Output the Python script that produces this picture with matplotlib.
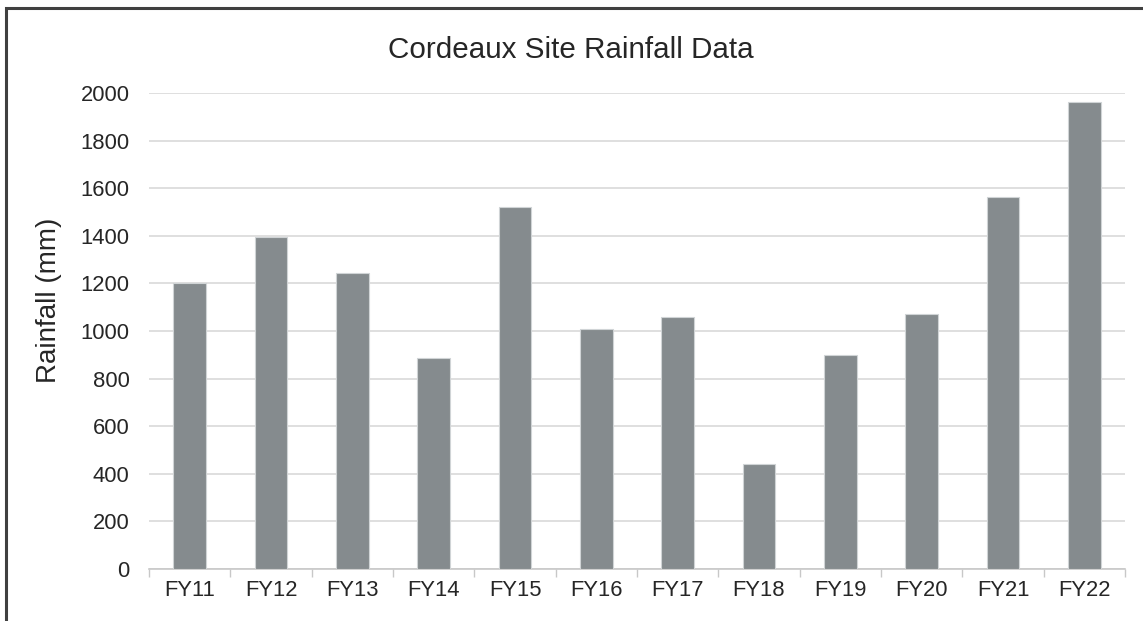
import matplotlib
matplotlib.use("Agg")
import matplotlib.pyplot as plt
import numpy as np

# rainfall per financial year (mm)
years = ["FY11", "FY12", "FY13", "FY14", "FY15", "FY16",
         "FY17", "FY18", "FY19", "FY20", "FY21", "FY22"]
rainfall = [1200, 1395, 1242, 885, 1522, 1008, 1057, 440, 899, 1070, 1564, 1961]
y_ticks = [0, 200, 400, 600, 800, 1000, 1200, 1400, 1600, 1800, 2000]

plt.rcParams['font.family'] = ['Liberation Sans', 'DejaVu Sans']
text_color = '#262626'

fig = plt.figure(figsize=(11.43, 6.21), dpi=100)
ax = fig.add_axes([0.1304, 0.0837, 0.8539, 0.7665])

x = np.arange(len(years))
ax.bar(x, rainfall, width=0.4, color='#858b8e', edgecolor='#d0d4d6',
       linewidth=0.8, zorder=3)

ax.set_xlim(-0.5, len(years) - 0.5)
ax.set_ylim(0, 2000)
ax.set_yticks(y_ticks)
ax.set_yticklabels([str(v) for v in y_ticks], fontsize=15.8, color=text_color)
ax.yaxis.grid(True, color='#d9d9d9', linewidth=1.2, zorder=0)
ax.tick_params(axis='y', length=0, pad=14)

# category labels at bar centres, tick marks at category boundaries
ax.set_xticks(x)
ax.set_xticklabels(years, fontsize=15.8, color=text_color)
ax.set_xticks(np.arange(-0.5, len(years)), minor=True)
ax.tick_params(axis='x', which='major', length=0, pad=8)
ax.tick_params(axis='x', which='minor', length=6, color='#c8c8c8', width=1)

for side in ['top', 'right', 'left']:
    ax.spines[side].set_visible(False)
ax.spines['bottom'].set_color('#c8c8c8')
ax.spines['bottom'].set_linewidth(1.2)

fig.text(0.043, 0.517, "Rainfall (mm)", fontsize=20, color=text_color,
         rotation=90, ha='center', va='center')
fig.text(0.4998, 0.919, "Cordeaux Site Rainfall Data", fontsize=21.3,
         color=text_color, ha='center', va='center')

# dark frame round the chart area (left and top edges show in the reference)
frame = plt.Rectangle((0.0055, -0.05), 1.2, 1.037, transform=fig.transFigure,
                      fill=False, edgecolor='#404040', linewidth=2.2)
fig.patches.append(frame)

fig.savefig("out.png", dpi=100)
